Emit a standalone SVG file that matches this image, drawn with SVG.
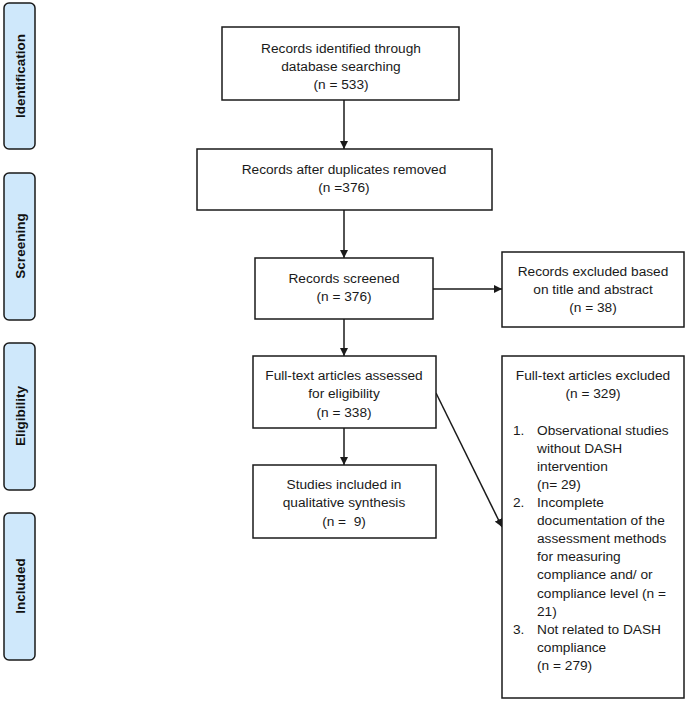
<svg xmlns="http://www.w3.org/2000/svg" width="688" height="702" viewBox="0 0 688 702">
<style>
.side{fill:#cfe8fb;stroke:#1a1a1a;stroke-width:1.5}
.sl{font-family:"Liberation Sans",Arial,sans-serif;font-size:13.5px;font-weight:bold;fill:#111;text-anchor:middle}
.box{fill:#fff;stroke:#1a1a1a;stroke-width:1.5}
.t{font-family:"Liberation Sans",Arial,sans-serif;font-size:13.7px;fill:#1a1a1a;text-anchor:middle}
.tl{font-family:"Liberation Sans",Arial,sans-serif;font-size:13.7px;fill:#1a1a1a}
.c{stroke:#1a1a1a;stroke-width:1.5;fill:none;marker-end:url(#ah)}
</style>
<defs>
<marker id="ah" viewBox="0 0 10 10" refX="10" refY="5" markerWidth="8" markerHeight="8" markerUnits="userSpaceOnUse" orient="auto">
<path d="M0,0 L10,5 L0,10 Z" fill="#1a1a1a"/>
</marker>
</defs>
<g id="side-identification"><rect class="side" x="4" y="3" width="31" height="146" rx="5"/><text class="sl" transform="translate(24.5,76) rotate(-90)">Identification</text></g>
<g id="side-screening"><rect class="side" x="4" y="173" width="31" height="147" rx="5"/><text class="sl" transform="translate(24.5,246) rotate(-90)">Screening</text></g>
<g id="side-eligibility"><rect class="side" x="4" y="343" width="31" height="147" rx="5"/><text class="sl" transform="translate(24.5,416) rotate(-90)">Eligibility</text></g>
<g id="side-included"><rect class="side" x="4" y="513" width="31" height="147" rx="5"/><text class="sl" transform="translate(24.5,586) rotate(-90)">Included</text></g>

<g id="connectors">
<line class="c" x1="344" y1="100" x2="344" y2="149"/>
<line class="c" x1="344" y1="210" x2="344" y2="258"/>
<line class="c" x1="433" y1="289" x2="502" y2="289"/>
<line class="c" x1="344" y1="319" x2="344" y2="356"/>
<line class="c" x1="344" y1="428" x2="344" y2="465"/>
<line class="c" x1="436" y1="393" x2="502" y2="527"/>
</g>

<g id="n-identified"><rect class="box" x="222" y="27" width="237" height="73"/>
<text class="t" x="341" y="53">Records identified through</text>
<text class="t" x="341" y="71">database searching</text>
<text class="t" x="341" y="89">(n = 533)</text></g>
<g id="n-duplicates"><rect class="box" x="197" y="149" width="295" height="61"/>
<text class="t" x="344" y="174">Records after duplicates removed</text>
<text class="t" x="344" y="192">(n =376)</text></g>
<g id="n-screened"><rect class="box" x="255" y="258" width="178" height="61"/>
<text class="t" x="344" y="283">Records screened</text>
<text class="t" x="344" y="301">(n = 376)</text></g>
<g id="n-excluded"><rect class="box" x="502" y="252" width="182" height="75"/>
<text class="t" x="593" y="276">Records excluded based</text>
<text class="t" x="593" y="294">on title and abstract</text>
<text class="t" x="593" y="312">(n = 38)</text></g>
<g id="n-fulltext"><rect class="box" x="253" y="356" width="183" height="72"/>
<text class="t" x="344" y="380">Full-text articles assessed</text>
<text class="t" x="344" y="398">for eligibility</text>
<text class="t" x="344" y="417">(n = 338)</text></g>
<g id="n-included"><rect class="box" x="253" y="465" width="183" height="73"/>
<text class="t" x="344" y="489">Studies included in</text>
<text class="t" x="344" y="507">qualitative synthesis</text>
<text class="t" x="344" y="526" xml:space="preserve">(n =  9)</text></g>
<g id="n-ftexcluded"><rect class="box" x="502" y="356" width="182" height="342"/>
<text class="t" x="593" y="380">Full-text articles excluded</text>
<text class="t" x="593" y="398">(n = 329)</text>
<text class="tl" x="513" y="435">1.</text>
<text class="tl" x="537" y="435">Observational studies</text>
<text class="tl" x="537" y="453">without DASH</text>
<text class="tl" x="537" y="471">intervention</text>
<text class="tl" x="537" y="489">(n= 29)</text>
<text class="tl" x="513" y="507">2.</text>
<text class="tl" x="537" y="507">Incomplete</text>
<text class="tl" x="537" y="525">documentation of the</text>
<text class="tl" x="537" y="543">assessment methods</text>
<text class="tl" x="537" y="561">for measuring</text>
<text class="tl" x="537" y="579">compliance and/ or</text>
<text class="tl" x="537" y="598">compliance level (n =</text>
<text class="tl" x="537" y="616">21)</text>
<text class="tl" x="513" y="634">3.</text>
<text class="tl" x="537" y="634">Not related to DASH</text>
<text class="tl" x="537" y="652">compliance</text>
<text class="tl" x="537" y="670">(n = 279)</text></g>
</svg>
